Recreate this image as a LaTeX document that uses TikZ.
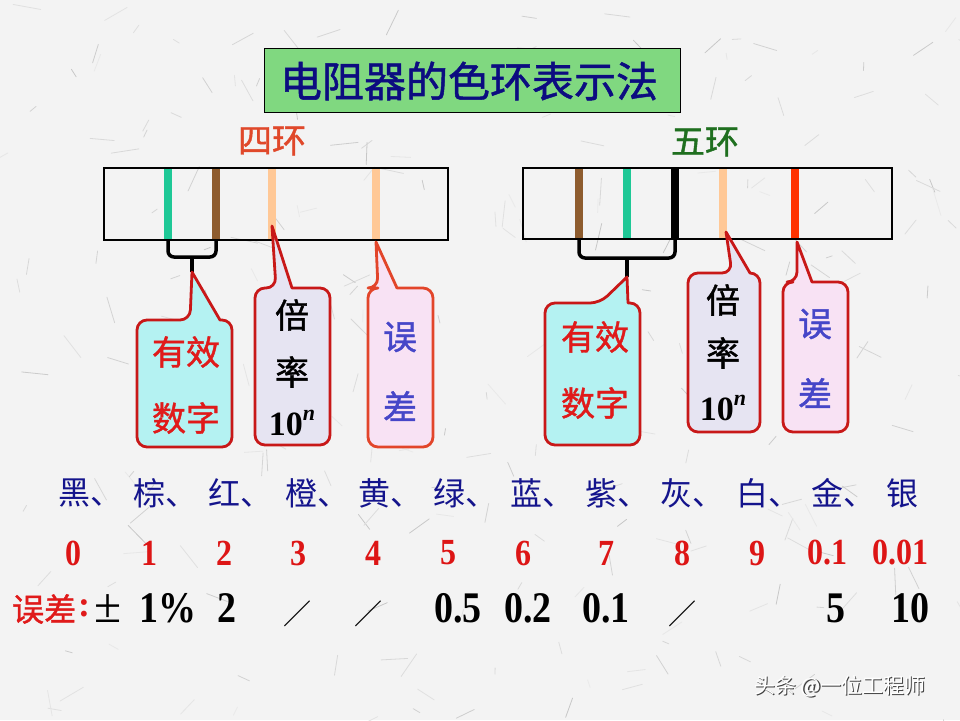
\documentclass[tikz,border=0pt]{standalone}
\usepackage{fontspec}
\setmainfont{Liberation Serif}
\newfontfamily\cjk{Noto Sans CJK SC}
\newfontfamily\cjkb[FakeBold=1.2]{Noto Sans CJK SC}
\definecolor{bgc}{HTML}{F3F3F3}
\definecolor{titlefill}{HTML}{80D880}
\definecolor{titletext}{HTML}{0C0C80}
\definecolor{ringred}{HTML}{E0482A}
\definecolor{ringgreen}{HTML}{1F6F1F}
\definecolor{bgreen}{HTML}{1EC896}
\definecolor{bbrown}{HTML}{8E5C2E}
\definecolor{borange}{HTML}{FFC896}
\definecolor{bred}{HTML}{FF3300}
\definecolor{cyanf}{HTML}{B4F2F2}
\definecolor{lavf}{HTML}{E6E4F2}
\definecolor{pinkf}{HTML}{F8E2F4}
\definecolor{cred}{HTML}{C81818}
\definecolor{cored}{HTML}{E2452A}
\definecolor{txtred}{HTML}{E01A1A}
\definecolor{txtblue}{HTML}{4646C8}
\definecolor{namesblue}{HTML}{14148C}
\definecolor{numred}{HTML}{DD1515}
\tikzset{
  body/.style={draw=black, line width=1.1pt},
  band/.style={line width=7.5pt},
  brace/.style={draw=black, line width=3.5pt, rounded corners=6pt},
  callbox/.style={line width=2.8pt, line join=round},
  cjkt/.style={font=\cjkb\fontsize{34}{36}\selectfont, inner sep=0pt},
  numt/.style={font=\bfseries\fontsize{32}{34}\selectfont, text=numred, inner sep=0pt},
  tolt/.style={font=\bfseries\fontsize{38}{40}\selectfont, text=black, inner sep=0pt},
  namet/.style={font=\cjk\fontsize{32}{34}\selectfont, text=namesblue, inner sep=0pt, anchor=west},
  tent/.style={font=\bfseries\fontsize{34}{36}\selectfont, inner sep=0pt},
  slasht/.style={font=\cjk\fontsize{28}{30}\selectfont, inner sep=0pt},
}
\newcommand\tenn{10\raisebox{0.42em}{\fontsize{22}{22}\selectfont\bfseries\itshape n}}
\newcommand\tall[1]{\scalebox{1}[1.15]{#1}}
\begin{document}
\begin{tikzpicture}[x=1pt,y=-1pt]
\fill[bgc] (0,0) rectangle (960,720);
\useasboundingbox (0,0) rectangle (960,720);
% paper texture
\pgfmathsetseed{42}
\foreach \i in {1,...,240}{
  \pgfmathsetmacro\px{rnd*960}
  \pgfmathsetmacro\py{rnd*720}
  \pgfmathsetmacro\pa{rnd*180}
  \pgfmathsetmacro\pl{6+rnd*22}
  \pgfmathsetmacro\pg{8+rnd*14}
  \draw[black!\pg, line width=0.8pt, line cap=round] (\px,\py) -- ++(\pa:\pl);
}
% title
\node[draw=black, line width=1pt, fill=titlefill, minimum width=416pt, minimum height=64pt, inner sep=0pt] (titlebox) at (472,80) {};
\node[font=\cjkb\fontsize{42}{44}\selectfont, text=titletext] (title) at (469,81) {电阻器的色环表示法};
% ring labels
\node[cjkt, text=ringred] (four) at (272,141) {四环};
\node[cjkt, text=ringgreen] (five) at (705,142) {五环};
% left resistor
\node[body, minimum width=344pt, minimum height=72pt, inner sep=0pt] (resA) at (276,204) {};
\coordinate (a1t) at (168,168); \coordinate (a1b) at (168,240);
\coordinate (a2t) at (216,168); \coordinate (a2b) at (216,240);
\coordinate (a3t) at (272,168); \coordinate (a3b) at (272,240);
\coordinate (a4t) at (376,168); \coordinate (a4b) at (376,240);
\draw[band, bgreen] (a1t) -- (a1b);
\draw[band, bbrown] (a2t) -- (a2b);
\draw[band, borange] (a3t) -- (a3b);
\draw[band, borange] (a4t) -- (a4b);
\node[body, minimum width=344pt, minimum height=72pt, inner sep=0pt] at (276,204) {};
% right resistor
\node[body, minimum width=369pt, minimum height=71pt, inner sep=0pt] (resB) at (707.5,203.5) {};
\coordinate (b1t) at (579,168); \coordinate (b1b) at (579,239);
\coordinate (b2t) at (627,168); \coordinate (b2b) at (627,239);
\coordinate (b3t) at (675,168); \coordinate (b3b) at (675,239);
\coordinate (b4t) at (723,168); \coordinate (b4b) at (723,239);
\coordinate (b5t) at (795,168); \coordinate (b5b) at (795,239);
\draw[band, bbrown] (b1t) -- (b1b);
\draw[band, bgreen] (b2t) -- (b2b);
\draw[band, black] (b3t) -- (b3b);
\draw[band, borange] (b4t) -- (b4b);
\draw[band, bred] (b5t) -- (b5b);
\node[body, minimum width=369pt, minimum height=71pt, inner sep=0pt] at (707.5,203.5) {};
% braces
\draw[brace] (a1b) -- (168,257) -- (216,257) -- (a2b);
\draw[black, line width=3.5pt] (192,257) -- (192,272);
\draw[brace] (b1b) -- (579,258) -- (675,258) -- (b3b);
\draw[black, line width=3.5pt] (627,258) -- (627,277);
% left callouts
\draw[callbox, draw=cred, fill=cyanf] (137,383) [rounded corners=10pt] |- (190,320) [sharp corners] -- (192,272) -- (220,320) [rounded corners=10pt] -| (232,383) |- (137,447) -- cycle;
\draw[callbox, draw=cred, fill=lavf] (255,366) [rounded corners=10pt] |- (276,288) [sharp corners] -- (272,226) -- (292,288) [rounded corners=10pt] -| (330,366) |- (255,445) -- cycle;
\draw[callbox, draw=cored, fill=pinkf] (368,368) [rounded corners=10pt] |- (378,288) [sharp corners] -- (376,242) -- (397,288) [rounded corners=10pt] -| (433,368) |- (368,447) -- cycle;
% right callouts
\draw[callbox, draw=cred, fill=cyanf] (545,374) [rounded corners=10pt] |- (600,303) [sharp corners] -- (627,277) -- (628,303) [rounded corners=10pt] -| (640,374) |- (545,445) -- cycle;
\draw[callbox, draw=cred, fill=lavf] (688,352) [rounded corners=10pt] |- (732,273) [sharp corners] -- (726,232) -- (750,273) [rounded corners=10pt] -| (760,352) |- (688,432) -- cycle;
\draw[callbox, draw=cred, fill=pinkf] (783,357) [rounded corners=10pt] |- (797,282) [sharp corners] -- (797,242) -- (812,282) [rounded corners=10pt] -| (848,357) |- (783,432) -- cycle;
% callout texts
\node[cjkt, text=txtred] (l1a) at (186,352) {有效};
\node[cjkt, text=txtred] (l1b) at (186,418) {数字};
\node[cjkt, text=black] (l2a) at (292,315) {倍};
\node[cjkt, text=black] (l2b) at (292,372) {率};
\node[tent] (l2c) at (292,423) {\tenn};
\node[cjkt, text=txtblue] (l3a) at (400,337) {误};
\node[cjkt, text=txtblue] (l3b) at (400,406) {差};
\node[cjkt, text=txtred] (r1a) at (595,337) {有效};
\node[cjkt, text=txtred] (r1b) at (595,403) {数字};
\node[cjkt, text=black] (r2a) at (723,300) {倍};
\node[cjkt, text=black] (r2b) at (723,353) {率};
\node[tent] (r2c) at (723,408) {\tenn};
\node[cjkt, text=txtblue] (r3a) at (815,324) {误};
\node[cjkt, text=txtblue] (r3b) at (815,393) {差};
% colour names
\node[namet] (n0) at (58,493) {黑、};
\node[namet] (n1) at (133,493) {棕、};
\node[namet] (n2) at (208,493) {红、};
\node[namet] (n3) at (285,493) {橙、};
\node[namet] (n4) at (358,493) {黄、};
\node[namet] (n5) at (433,493) {绿、};
\node[namet] (n6) at (510,493) {蓝、};
\node[namet] (n7) at (585,493) {紫、};
\node[namet] (n8) at (660,493) {灰、};
\node[namet] (n9) at (736,493) {白、};
\node[namet] (n10) at (811,493) {金、};
\node[namet] (n11) at (886,493) {银};
% numbers
\node[numt] (d0) at (73,553) {\tall{0}};
\node[numt] (d1) at (149,553) {\tall{1}};
\node[numt] (d2) at (224,553) {\tall{2}};
\node[numt] (d3) at (298,553) {\tall{3}};
\node[numt] (d4) at (373,553) {\tall{4}};
\node[numt] (d5) at (448,553) {\tall{5}};
\node[numt] (d6) at (523,553) {\tall{6}};
\node[numt] (d7) at (606,553) {\tall{7}};
\node[numt] (d8) at (682,553) {\tall{8}};
\node[numt] (d9) at (757,553) {\tall{9}};
\node[numt] (d10) at (827,553) {\tall{0.1}};
\node[numt] (d11) at (900,553) {\tall{0.01}};
% tolerance row
\node[font=\cjkb\fontsize{32}{34}\selectfont, text=txtred, inner sep=0pt, anchor=west] (tl) at (12,609) {误差};
\node[font=\bfseries\fontsize{36}{38}\selectfont, text=txtred, inner sep=0pt] (tc) at (84,608) {:};
\node[font=\fontsize{38}{40}\selectfont, text=black, inner sep=0pt] (tpm) at (108,609) {\scalebox{1.3}{±}};
\node[tolt] (t1) at (168,608) {\tall{1\%}};
\node[tolt] (t2) at (227,608) {\tall{2}};
\node[slasht] (t3) at (297,614) {／};
\node[slasht] (t4) at (368,614) {／};
\node[tolt] (t5) at (458,608) {\tall{0.5}};
\node[tolt] (t6) at (528,608) {\tall{0.2}};
\node[tolt] (t7) at (606,608) {\tall{0.1}};
\node[slasht] (t8) at (682,614) {／};
\node[tolt] (t10) at (836,608) {\tall{5}};
\node[tolt] (t11) at (910,608) {\tall{10}};
% watermark
\node[font=\cjk\fontsize{21}{23}\selectfont, text=black!75, inner sep=0pt] (wms) at (841.2,687.2) {头条 @一位工程师};
\node[font=\cjk\fontsize{21}{23}\selectfont, text=white, inner sep=0pt] (wm) at (840,686) {头条 @一位工程师};
\end{tikzpicture}
\end{document}
